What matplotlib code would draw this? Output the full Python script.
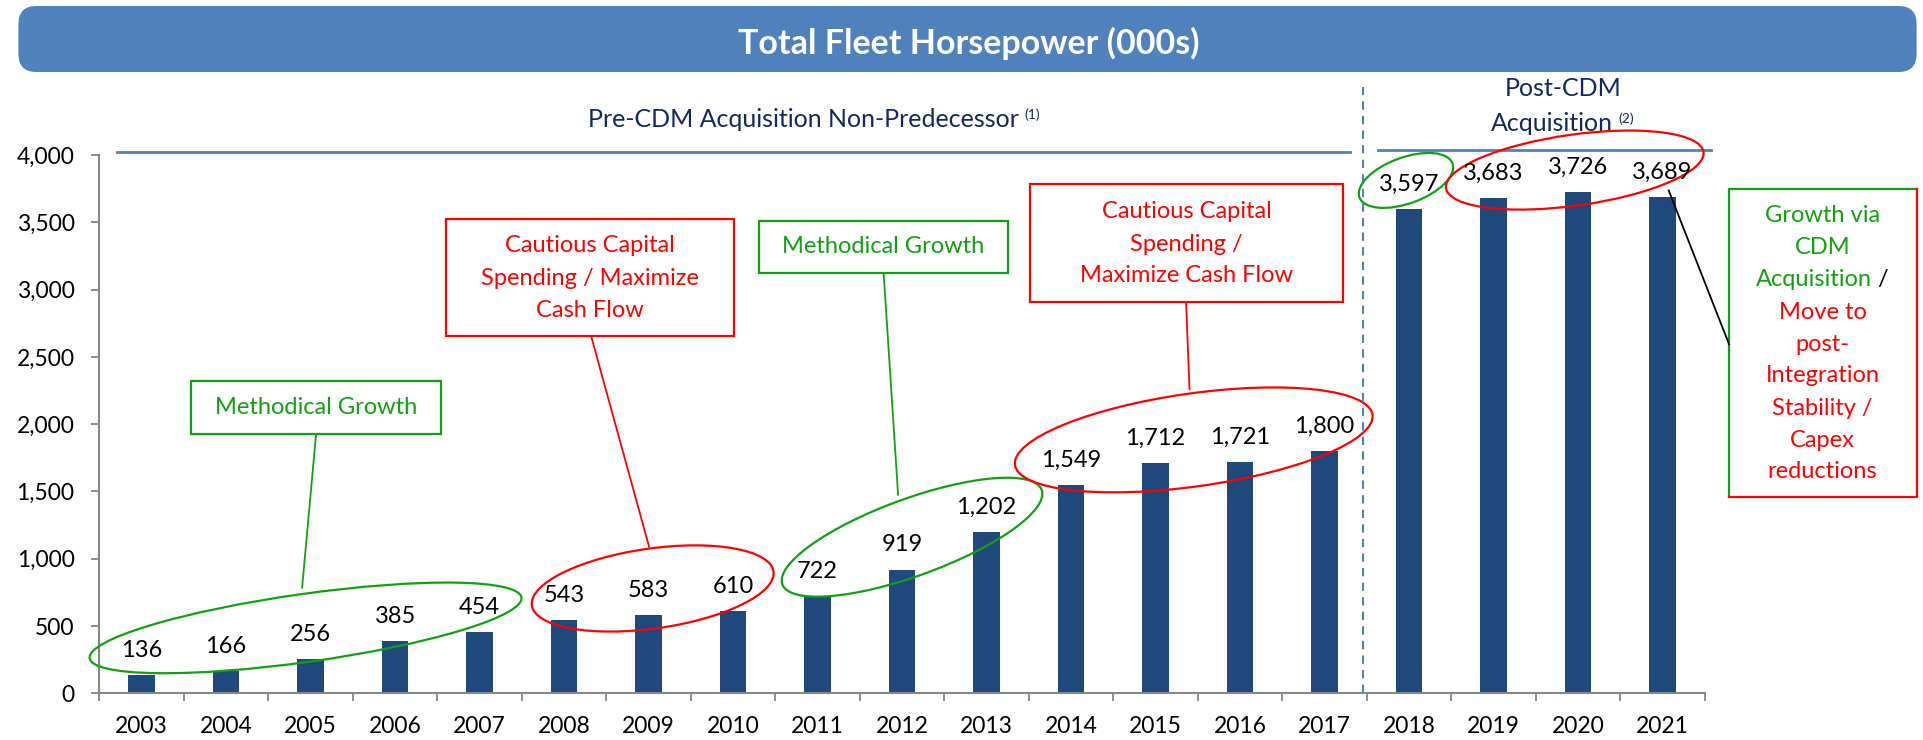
import matplotlib
matplotlib.use('Agg')
import matplotlib.pyplot as plt
from matplotlib.patches import Ellipse, Rectangle, FancyBboxPatch
from matplotlib.transforms import ScaledTranslation
import numpy as np

# chart data
years = ['2003', '2004', '2005', '2006', '2007', '2008', '2009', '2010', '2011', '2012',
         '2013', '2014', '2015', '2016', '2017', '2018', '2019', '2020', '2021']
horsepower = [136, 166, 256, 385, 454, 543, 583, 610, 722, 919,
              1202, 1549, 1712, 1721, 1800, 3597, 3683, 3726, 3689]
y_ticks = [0, 500, 1000, 1500, 2000, 2500, 3000, 3500, 4000]

title = 'Total Fleet Horsepower (000s)'
pre_label = 'Pre-CDM Acquisition Non-Predecessor'
post_label = ['Post-CDM', 'Acquisition']
growth_note = 'Methodical Growth'
cautious_note_a = ['Cautious Capital', 'Spending / Maximize', 'Cash Flow']
cautious_note_b = ['Cautious Capital', 'Spending /', 'Maximize Cash Flow']
right_note = ['Growth via', 'CDM', 'Acquisition', 'Move to', 'post-', 'Integration',
              'Stability /', 'Capex', 'reductions']

BAR = '#1F497D'
GREEN = '#12A012'
RED = '#FF0000'
NAVY = '#13295E'
AXIS = '#868686'
BANNER = '#4F81BD'

plt.rcParams['font.family'] = ['Lato', 'DejaVu Sans']

fig = plt.figure(figsize=(19.23, 7.40), dpi=100)
ax = fig.add_axes([99.3 / 1923, 1 - 693.3 / 740, 1605.5 / 1923, 538.3 / 740])

x = np.arange(len(years))
ax.bar(x, horsepower, width=0.31, color=BAR, zorder=2)
ax.set_xlim(-0.5, len(years) - 0.5)
ax.set_ylim(0, 4000)

for xi, v in zip(x, horsepower):
    ax.text(xi, v + 135, f'{v:,}', ha='center', va='baseline', fontsize=17, color='black', zorder=6)

# axes styling
ax.set_xticks(np.arange(-0.5, len(years)), labels=[])
ax.set_xticks(x, labels=years, minor=True)
ax.tick_params(axis='x', which='major', length=5.8, width=1.3, color=AXIS, direction='out')
ax.tick_params(axis='x', which='minor', length=0, pad=16, labelsize=16.5)
ax.set_yticks(y_ticks, labels=[f'{v:,}' for v in y_ticks])
ax.tick_params(axis='y', length=5.8, width=1.3, color=AXIS, pad=12, labelsize=16.5)
for s in ['top', 'right']:
    ax.spines[s].set_visible(False)
for s in ['left', 'bottom']:
    ax.spines[s].set_color(AXIS)
    ax.spines[s].set_linewidth(1.5)

# title banner
fig.add_artist(FancyBboxPatch((0.184, 6.68), 18.982, 0.66,
                              boxstyle='round,pad=0,rounding_size=0.18',
                              transform=fig.dpi_scale_trans, facecolor=BANNER, edgecolor='none'))
fig.text(969 / 1923, 1 - 43 / 740, title, color='white', fontsize=24.5, fontweight='bold',
         ha='center', va='center')

# period headers
ax.plot([-0.295, 14.298], [4023, 4023], color=BANNER, lw=2, clip_on=False)
ax.plot([14.633, 18.574], [4039, 4039], color=BANNER, lw=2, clip_on=False)
ax.plot([14.45, 14.45], [0, 4509], color=BANNER, lw=1.5, ls=(0, (4, 3)), clip_on=False)

t = ax.text(7.837, 4263, pre_label, ha='center', va='center', color=NAVY, fontsize=18)
ax.annotate('(1)', xy=(1, 0.45), xycoords=t, xytext=(4, 0), textcoords='offset points',
            fontsize=10, va='bottom', color=NAVY)
ax.text(16.82, 4493, post_label[0], ha='center', va='center', color=NAVY, fontsize=18)
t = ax.text(16.69, 4233, post_label[1], ha='center', va='center', color=NAVY, fontsize=18)
ax.annotate('(2)', xy=(1, 0.45), xycoords=t, xytext=(4, 0), textcoords='offset points',
            fontsize=10, va='bottom', color=NAVY)


def ring(xc, yc, w, h, angle, color):
    # ellipse anchored in data coords, sized in pixels
    tr = fig.dpi_scale_trans + ScaledTranslation(xc, yc, ax.transData)
    ax.add_patch(Ellipse((0, 0), w / 100, h / 100, angle=angle, fill=False, edgecolor=color,
                         lw=1.6, transform=tr, clip_on=False, zorder=4))


def box(x0, x1, y0, y1, color):
    ax.add_patch(Rectangle((x0, y0), x1 - x0, y1 - y0, facecolor='white', edgecolor=color,
                           lw=1.6, clip_on=False, zorder=5))


def link(p0, p1, color):
    ax.plot([p0[0], p1[0]], [p0[1], p1[1]], color=color, lw=1.3, clip_on=False, zorder=3)


def lines(xc, ys, texts, color):
    for yy, s in zip(ys, texts):
        ax.text(xc, yy, s, ha='center', va='center', color=color, fontsize=17, zorder=6)


# methodical growth 2003-2007
box(0.589, 3.544, 1924, 2319, GREEN)
lines(2.067, [2121], [growth_note], GREEN)
link((2.065, 1924), (1.90, 784), GREEN)
ring(1.941, 486, 436, 68, 8, GREEN)

# cautious 2008-2010
box(3.604, 7.012, 2655, 3526, RED)
lines(5.308, [3324, 3086, 2848], cautious_note_a, RED)
link((5.320, 2655), (6.006, 1090), RED)
ring(6.049, 779, 244, 80, 8, RED)

# methodical growth 2011-2013
box(7.302, 10.254, 3124, 3511, GREEN)
lines(8.778, [3317], [growth_note], GREEN)
link((8.782, 3124), (8.953, 1477), GREEN)
ring(9.118, 1160, 276, 77, 20, GREEN)

# cautious 2014-2017
box(10.512, 14.218, 2909, 3781, RED)
lines(12.365, [3578, 3332, 3101], cautious_note_b, RED)
link((12.361, 2909), (12.402, 2259), RED)
ring(12.452, 1883, 361, 93, 8, RED)

# post-acquisition
ring(14.964, 3811, 99, 46, 20, GREEN)
ring(16.961, 3888, 260, 71, 8, RED)

rx0, rx1, ry0, ry1 = 18.787, 21.007, 1455, 3749
ax.plot([rx0, rx0, rx1], [ry0, ry1, ry1], color=GREEN, lw=1.6, clip_on=False)
ax.plot([rx1, rx1, rx0], [ry1, ry0, ry0], color=RED, lw=1.6, clip_on=False)
link((18.073, 3736), (rx0, 2594), 'black')
note_y = [3550, 3315, 3073, 2831, 2589, 2358, 2115, 1882, 1646]
lines(19.893, note_y[:2], right_note[:2], GREEN)
t = ax.text(19.79, note_y[2], right_note[2], ha='center', va='center', color=GREEN, fontsize=17)
ax.annotate(' /', xy=(1, 0.5), xycoords=t, va='center', ha='left', color='black', fontsize=17)
lines(19.893, note_y[3:], right_note[3:], RED)

fig.savefig('out.png', dpi=100)
